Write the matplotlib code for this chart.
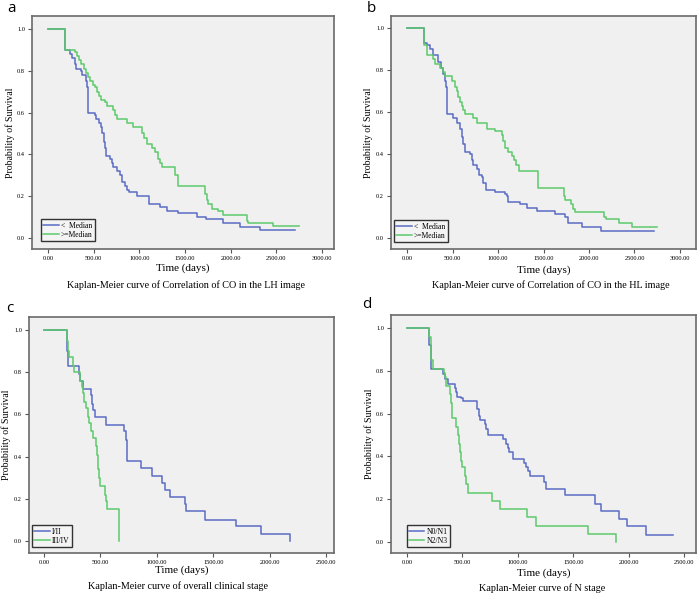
import matplotlib
matplotlib.use("Agg")
import matplotlib.pyplot as plt
from matplotlib.ticker import FormatStrFormatter

# ---- data (event time, survival after) ----
a_low_t = [0, 183, 238, 267, 293, 311, 358, 377, 413, 428, 439, 512, 530, 560, 585, 596, 611, 622,
           640, 677, 702, 713, 757, 787, 805, 841, 860, 889, 970, 1109, 1225, 1299, 1427, 1628,
           1730, 1913, 2104, 2323, 2707]
a_low_s = [1.0, 0.90, 0.88, 0.86, 0.83, 0.81, 0.80, 0.78, 0.75, 0.72, 0.60, 0.59, 0.57, 0.55, 0.53,
           0.50, 0.46, 0.43, 0.39, 0.38, 0.36, 0.34, 0.32, 0.30, 0.27, 0.25, 0.23, 0.22, 0.20, 0.16,
           0.15, 0.13, 0.12, 0.10, 0.09, 0.07, 0.05, 0.04, 0.04]
a_high_t = [0, 183, 293, 322, 340, 366, 392, 413, 439, 465, 494, 520, 541, 556, 585, 622, 648, 713,
            732, 757, 860, 933, 1024, 1050, 1079, 1134, 1171, 1200, 1226, 1244, 1390, 1427, 1720,
            1738, 1756, 1793, 1866, 1921, 2177, 2195, 2462, 2744]
a_high_s = [1.0, 0.90, 0.89, 0.87, 0.85, 0.83, 0.81, 0.79, 0.77, 0.75, 0.73, 0.72, 0.70, 0.68, 0.66,
            0.65, 0.63, 0.61, 0.59, 0.57, 0.55, 0.53, 0.50, 0.48, 0.45, 0.43, 0.41, 0.38, 0.36, 0.34,
            0.30, 0.25, 0.21, 0.18, 0.16, 0.14, 0.13, 0.11, 0.08, 0.07, 0.055, 0.055]

b_low_t = [0, 190, 216, 253, 282, 337, 374, 399, 418, 429, 443, 509, 546, 582, 601, 619, 637, 692,
           711, 729, 766, 795, 821, 839, 864, 967, 1077, 1095, 1114, 1242, 1315, 1425, 1626, 1736,
           1766, 1919, 2128, 2714]
b_low_s = [1.0, 0.93, 0.92, 0.90, 0.87, 0.84, 0.81, 0.78, 0.75, 0.72, 0.59, 0.57, 0.55, 0.52, 0.48,
           0.45, 0.41, 0.40, 0.37, 0.35, 0.33, 0.30, 0.29, 0.26, 0.23, 0.22, 0.21, 0.20, 0.17, 0.16,
           0.145, 0.13, 0.115, 0.10, 0.07, 0.053, 0.036, 0.036]
b_high_t = [0, 190, 216, 289, 308, 363, 392, 418, 491, 527, 546, 564, 582, 601, 619, 637, 722, 766,
            876, 967, 1040, 1058, 1077, 1114, 1150, 1176, 1198, 1231, 1436, 1729, 1740, 1802, 1828,
            1846, 2169, 2190, 2333, 2469, 2744]
b_high_s = [1.0, 0.92, 0.87, 0.85, 0.83, 0.81, 0.79, 0.77, 0.75, 0.72, 0.70, 0.67, 0.65, 0.63, 0.61,
            0.59, 0.57, 0.55, 0.52, 0.51, 0.49, 0.46, 0.43, 0.41, 0.39, 0.37, 0.35, 0.32, 0.24, 0.20,
            0.18, 0.16, 0.14, 0.125, 0.10, 0.09, 0.07, 0.055, 0.055]

c_early_t = [0, 201, 216, 311, 320, 349, 414, 423, 432, 453, 550, 713, 728, 734, 740, 861, 956, 1044,
             1074, 1118, 1246, 1257, 1429, 1704, 1923, 2180]
c_early_s = [1.0, 0.90, 0.83, 0.79, 0.76, 0.72, 0.69, 0.65, 0.62, 0.59, 0.55, 0.52, 0.48, 0.41, 0.38,
             0.345, 0.31, 0.275, 0.24, 0.21, 0.175, 0.14, 0.10, 0.07, 0.035, 0.0]
c_late_t = [0, 201, 210, 222, 254, 266, 320, 334, 349, 355, 373, 393, 402, 417, 432, 464, 470, 476,
            488, 497, 541, 550, 556, 669]
c_late_s = [1.0, 0.95, 0.90, 0.87, 0.83, 0.80, 0.76, 0.73, 0.70, 0.66, 0.63, 0.59, 0.56, 0.52, 0.49,
            0.45, 0.41, 0.34, 0.30, 0.26, 0.22, 0.19, 0.15, 0.0]

d_n01_t = [0, 200, 215, 221, 326, 341, 371, 437, 446, 455, 491, 506, 632, 647, 662, 701, 716, 731,
           865, 895, 910, 925, 955, 1060, 1075, 1090, 1114, 1234, 1255, 1425, 1695, 1749, 1913, 1988,
           2159, 2398]
d_n01_s = [1.0, 0.92, 0.85, 0.81, 0.785, 0.76, 0.74, 0.72, 0.70, 0.68, 0.675, 0.66, 0.62, 0.59, 0.57,
           0.55, 0.53, 0.50, 0.48, 0.46, 0.44, 0.42, 0.39, 0.37, 0.35, 0.33, 0.31, 0.28, 0.25, 0.22,
           0.18, 0.145, 0.11, 0.075, 0.035, 0.035]
d_n23_t = [0, 200, 215, 221, 236, 332, 341, 356, 386, 401, 407, 446, 461, 467, 476, 491, 497, 521, 536,
           551, 767, 836, 1087, 1162, 1634, 1883]
d_n23_s = [1.0, 0.96, 0.88, 0.85, 0.81, 0.79, 0.77, 0.73, 0.69, 0.65, 0.58, 0.54, 0.50, 0.46, 0.42,
           0.38, 0.35, 0.31, 0.27, 0.23, 0.19, 0.155, 0.115, 0.075, 0.04, 0.0]

BLUE = "#5a6cc4"
GREEN = "#5cc96a"
SERIF = ["Liberation Serif", "DejaVu Serif"]

fig = plt.figure(figsize=(6.97, 5.95), dpi=100)
W, H = 697.0, 595.0


def add_axes(left, top, right, bottom):
    return fig.add_axes([left / W, 1 - bottom / H, (right - left) / W, (bottom - top) / H])


def km_panel(ax, curves, labels, xlim, ylim, xticks, leg_xy, ylab_x, xlab_y):
    for (t, s), col, lab in zip(curves, [BLUE, GREEN], labels):
        ax.step(t, s, where="post", color=col, lw=1.1, label=lab)
    ax.set_facecolor("#f0f0f0")
    ax.set_xlim(*xlim)
    ax.set_ylim(*ylim)
    ax.set_xticks(xticks)
    ax.set_yticks([0.0, 0.2, 0.4, 0.6, 0.8, 1.0])
    ax.xaxis.set_major_formatter(FormatStrFormatter("%.2f"))
    ax.yaxis.set_major_formatter(FormatStrFormatter("%.1f"))
    ax.tick_params(direction="out", length=3, width=0.8, color="#555555", labelsize=4.6, pad=2)
    for lab in ax.get_xticklabels() + ax.get_yticklabels():
        lab.set_family(SERIF)
    for sp in ax.spines.values():
        sp.set_color("#6a6a6a")
        sp.set_linewidth(1.2)
    ax.set_ylabel("Probability of Survival", family=SERIF, fontsize=7)
    ax.yaxis.set_label_coords(ylab_x, 0.5)
    ax.set_xlabel("Time (days)", family=SERIF, fontsize=8)
    ax.xaxis.set_label_coords(0.5, xlab_y)
    leg = ax.legend(loc="lower left", bbox_to_anchor=leg_xy, borderaxespad=0, fancybox=False,
                    prop={"family": SERIF, "size": 5.5}, handlelength=2.0, handletextpad=0.3,
                    borderpad=0.3, labelspacing=0.15, facecolor="#f4f4f4", framealpha=1)
    leg.get_frame().set_edgecolor("#333333")
    leg.get_frame().set_linewidth(1.0)


ax_a = add_axes(32, 16, 334, 249)
km_panel(ax_a, [(a_low_t, a_low_s), (a_high_t, a_high_s)], ["<  Median", ">=Median"],
         (-175, 3131), (-0.053, 1.062), [0, 500, 1000, 1500, 2000, 2500, 3000],
         (0.03, 0.034), -0.056, -0.06)

ax_b = add_axes(391, 16, 696, 249)
km_panel(ax_b, [(b_low_t, b_low_s), (b_high_t, b_high_s)], ["<  Median", ">=Median"],
         (-176, 3176), (-0.052, 1.057), [0, 500, 1000, 1500, 2000, 2500, 3000],
         (0.01, 0.03), -0.059, -0.069)

ax_c = add_axes(29, 317, 334, 553)
km_panel(ax_c, [(c_early_t, c_early_s), (c_late_t, c_late_s)], ["I/II", "III/IV"],
         (-133, 2571), (-0.057, 1.062), [0, 500, 1000, 1500, 2000, 2500],
         (0.01, 0.025), -0.058, -0.051)

ax_d = add_axes(391, 315, 696, 553)
km_panel(ax_d, [(d_n01_t, d_n01_s), (d_n23_t, d_n23_s)], ["N0/N1", "N2/N3"],
         (-144, 2608), (-0.051, 1.061), [0, 500, 1000, 1500, 2000, 2500],
         (0.052, 0.025), -0.056, -0.063)

# captions under each panel
captions = [(186, 285, "Kaplan-Meier curve of Correlation of CO in the LH image"),
            (551, 285, "Kaplan-Meier curve of Correlation of CO in the HL image"),
            (178, 586, "Kaplan-Meier curve of overall clinical stage"),
            (542, 588, "Kaplan-Meier curve of N stage")]
for x, y, txt in captions:
    fig.text(x / W, 1 - y / H, txt, family=SERIF, fontsize=7.3, ha="center", va="center")

# panel letters
for x, y, txt in [(12, 9, "a"), (371, 8, "b"), (10, 309, "c"), (367, 305, "d")]:
    fig.text(x / W, 1 - y / H, txt, family="Open Sans", fontsize=11, ha="center", va="center")

fig.savefig("out.png", dpi=100)
